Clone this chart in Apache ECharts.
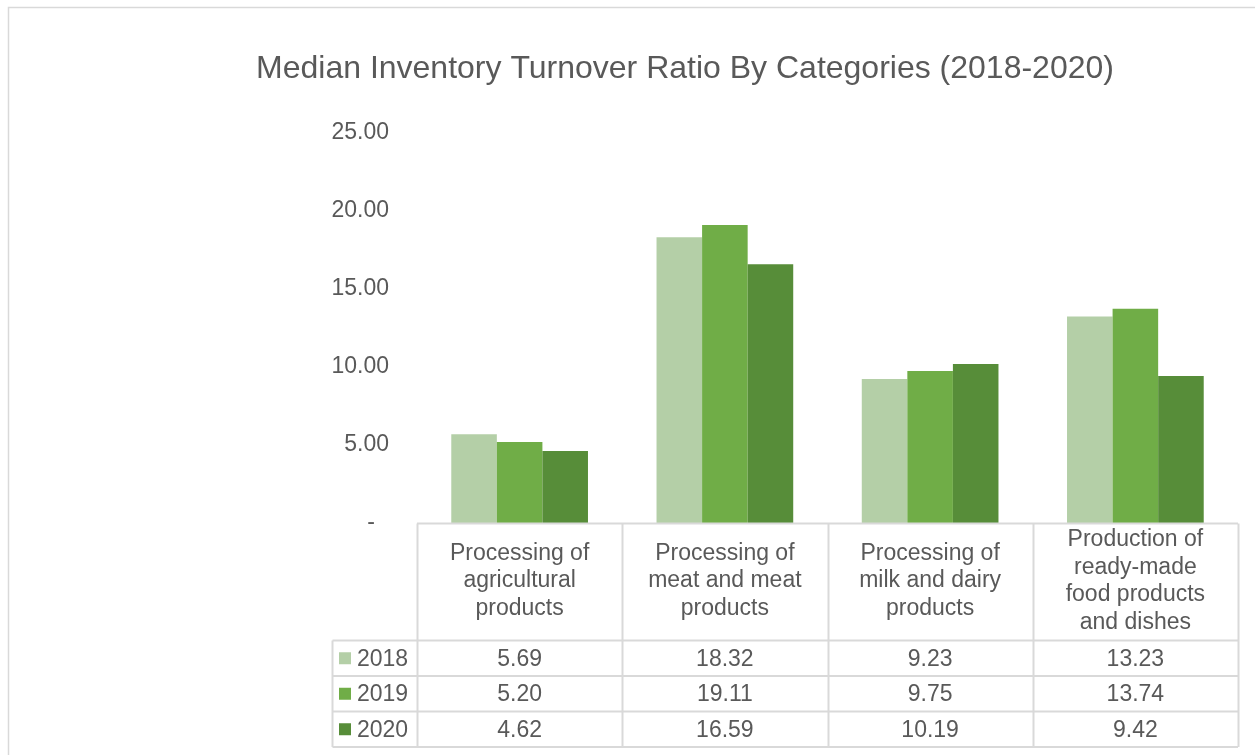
<!DOCTYPE html>
<html>
<head>
<meta charset="utf-8">
<script src="https://cdn.jsdelivr.net/npm/echarts@6/dist/echarts.min.js"></script>
<style>
  html, body { margin: 0; padding: 0; background: #ffffff; }
  #chart { width: 1255px; height: 755px; }
</style>
</head>
<body>
<div id="chart"></div>
<script>
// Chart data
const categories = [
  'Processing of\nagricultural\nproducts',
  'Processing of\nmeat and meat\nproducts',
  'Processing of\nmilk and dairy\nproducts',
  'Production of\nready-made\nfood products\nand dishes'
];
const years = ['2018', '2019', '2020'];
const values2018 = [5.69, 18.32, 9.23, 13.23];
const values2019 = [5.20, 19.11, 9.75, 13.74];
const values2020 = [4.62, 16.59, 10.19, 9.42];
const yTicks = [0, 5, 10, 15, 20, 25];

const seriesValues = [values2018, values2019, values2020];
const colors = ['#b4cfa7', '#70ad47', '#578d39'];
const FONT = '"Liberation Sans", Arial, sans-serif';
const TEXT = '#595959';
const LINE = '#d9d9d9';

const chart = echarts.init(document.getElementById('chart'), null, { renderer: 'canvas' });

const option = {
  backgroundColor: '#ffffff',
  animation: false,
  textStyle: { fontFamily: FONT },
  title: {
    text: 'Median Inventory Turnover Ratio By Categories (2018-2020)',
    left: 680,
    top: 48,
    textAlign: 'center',
    textStyle: { fontFamily: FONT, fontSize: 32, fontWeight: 'normal', color: TEXT }
  },
  grid: { left: 417, right: 17, top: 133, bottom: 232, containLabel: false },
  xAxis: {
    type: 'category',
    data: categories,
    axisLine: { show: false },
    axisTick: { show: false },
    axisLabel: { show: false },
    splitLine: { show: false }
  },
  yAxis: {
    type: 'value',
    min: yTicks[0],
    max: yTicks[yTicks.length - 1],
    interval: yTicks[1] - yTicks[0],
    axisLine: { show: false },
    axisTick: { show: false },
    splitLine: { show: false },
    axisLabel: {
      margin: 28,
      fontFamily: FONT,
      fontSize: 23,
      color: TEXT,
      formatter: v => v === 0 ? '{z|-}' : v.toFixed(2),
      rich: { z: { fontFamily: FONT, fontSize: 23, color: TEXT, padding: [0, 14, 0, 0] } }
    }
  },
  series: years.map((y, i) => ({
    name: y,
    type: 'bar',
    data: seriesValues[i],
    barGap: '0%',
    barCategoryGap: '33.4%',
    itemStyle: { color: colors[i] }
  }))
};

chart.setOption(option);

// Data table under the plot, aligned to the category axis
function buildTable() {
  const c0 = chart.convertToPixel({ xAxisIndex: 0 }, 0);
  const c1 = chart.convertToPixel({ xAxisIndex: 0 }, 1);
  const band = c1 - c0;
  const top = Math.round(chart.convertToPixel({ yAxisIndex: 0 }, 0)) + 0.5;
  const left = c0 - band / 2;
  const right = left + band * categories.length;
  const headerH = 117;
  const rowH = 35.5;
  const labelLeft = 332.5;
  const bottom = top + headerH + rowH * years.length;
  const els = [];

  // outer frame of the chart area
  els.push({ type: 'rect', shape: { x: 8.5, y: 7.5, width: 1300, height: 800 },
    style: { fill: 'none', stroke: LINE, lineWidth: 1.5 }, silent: true, z: 0 });

  const line = (x1, y1, x2, y2) => els.push({ type: 'line',
    shape: { x1, y1, x2, y2 }, style: { stroke: LINE, lineWidth: 2 }, z: 10 });

  // horizontal lines
  line(left, top, right, top);
  line(labelLeft, top + headerH, right, top + headerH);
  for (let r = 1; r <= years.length; r++) {
    line(labelLeft, top + headerH + rowH * r, right, top + headerH + rowH * r);
  }
  // vertical lines
  for (let c = 0; c <= categories.length; c++) {
    const x = Math.round(left + band * c) + 0.5;
    line(x, top, x, bottom);
  }
  line(labelLeft, top + headerH, labelLeft, bottom);

  // header cells
  categories.forEach((cat, c) => {
    els.push({ type: 'text', z: 11,
      x: c0 + band * c, y: top + headerH / 2 - 1,
      style: { text: cat, fontFamily: FONT, fontSize: 23, fill: TEXT,
        align: 'center', verticalAlign: 'middle', lineHeight: 27.5 } });
  });

  // series rows with legend keys
  years.forEach((y, r) => {
    const cy = top + headerH + rowH * r + rowH / 2;
    els.push({ type: 'rect', z: 11, shape: { x: 339, y: cy - 6, width: 12, height: 12 },
      style: { fill: colors[r] } });
    els.push({ type: 'text', z: 11, x: 357, y: cy + 1,
      style: { text: y, fontFamily: FONT, fontSize: 23, fill: TEXT,
        align: 'left', verticalAlign: 'middle' } });
    seriesValues[r].forEach((v, c) => {
      els.push({ type: 'text', z: 11, x: c0 + band * c, y: cy + 1,
        style: { text: v.toFixed(2), fontFamily: FONT, fontSize: 23, fill: TEXT,
          align: 'center', verticalAlign: 'middle' } });
    });
  });

  chart.setOption({ graphic: { elements: els } });
}

buildTable();
</script>
</body>
</html>
